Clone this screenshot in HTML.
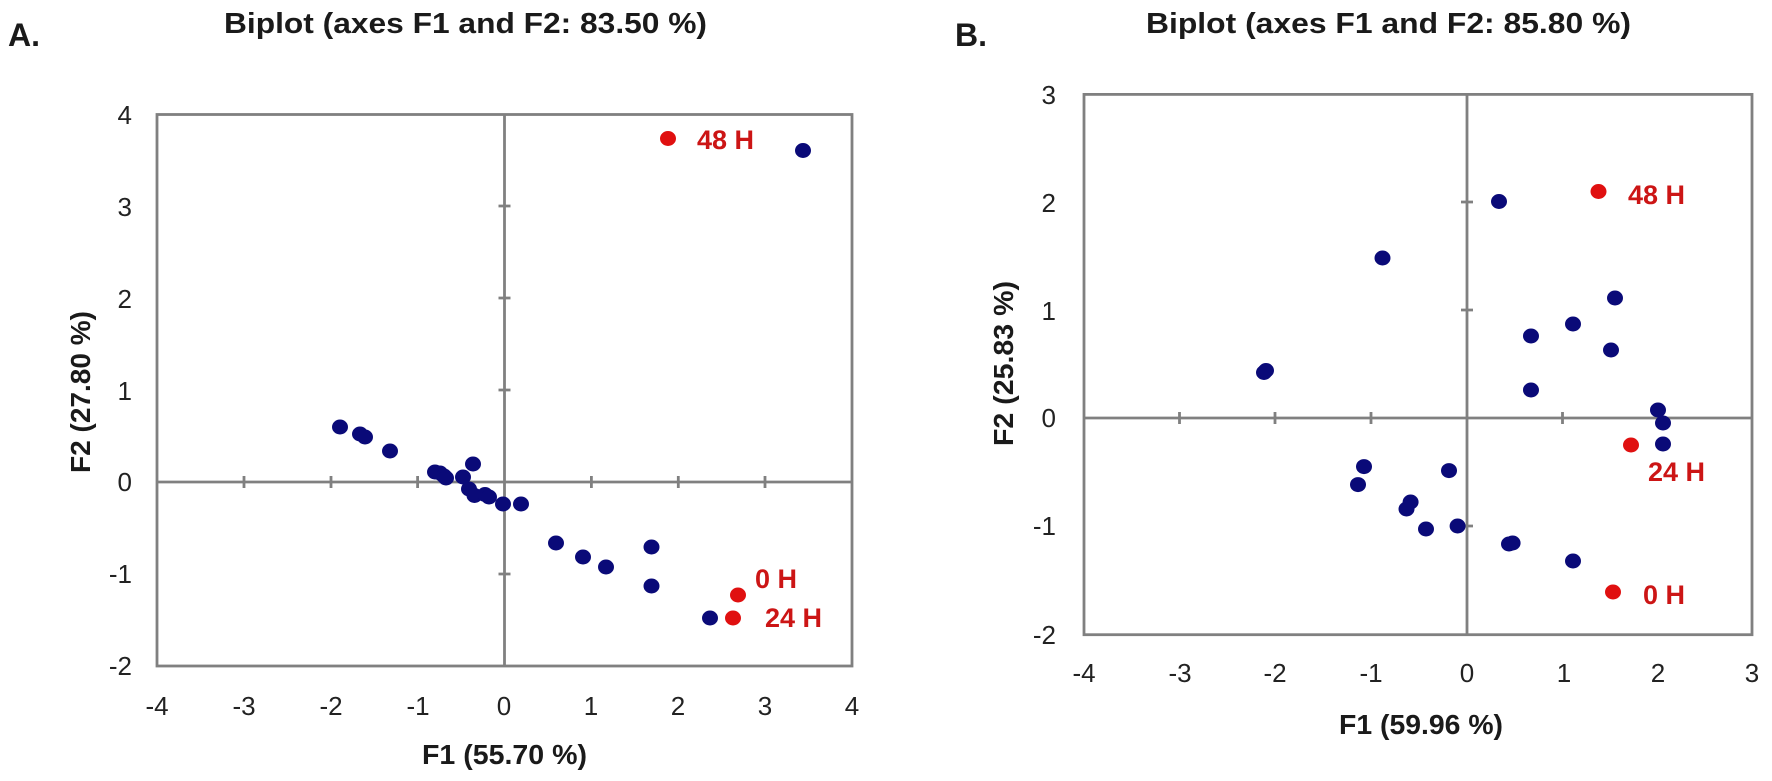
<!DOCTYPE html>
<html><head><meta charset="utf-8"><style>
html,body{margin:0;padding:0;background:#fff;}
svg{display:block;}
text{font-family:"Liberation Sans",sans-serif;}
.t{font-size:26px;fill:#222;}
.b{font-weight:bold;fill:#1a1a1a;}
.r{font-weight:bold;font-size:27px;fill:#cc1515;}
</style></head><body>
<svg width="1772" height="781" viewBox="0 0 1772 781">
<defs>
<ellipse id="d" rx="8" ry="7.5"/>
</defs>
<!-- Chart A -->
<text class="b" x="8" y="46" font-size="32">A.</text>
<text class="b" x="224" y="33" font-size="29" textLength="483" lengthAdjust="spacingAndGlyphs">Biplot (axes F1 and F2: 83.50 %)</text>
<g stroke="#808080" stroke-width="2.8" fill="none">
<rect x="157" y="114.5" width="695" height="551.5"/>
<line x1="157" y1="482" x2="852" y2="482"/>
<line x1="504.5" y1="114.5" x2="504.5" y2="666"/>
<path d="M244 476v12M331 476v12M417.6 476v12M591.4 476v12M678.3 476v12M765 476v12M498.5 206h12M498.5 298h12M498.5 390h12M498.5 574h12"/>
</g>
<g class="t" text-anchor="middle">
<text x="157" y="715">-4</text><text x="244" y="715">-3</text><text x="331" y="715">-2</text><text x="418" y="715">-1</text><text x="504" y="715">0</text><text x="591" y="715">1</text><text x="678" y="715">2</text><text x="765" y="715">3</text><text x="852" y="715">4</text>
</g>
<g class="t" text-anchor="end">
<text x="132" y="124">4</text><text x="132" y="216">3</text><text x="132" y="308">2</text><text x="132" y="400">1</text><text x="132" y="491">0</text><text x="132" y="583">-1</text><text x="132" y="675">-2</text>
</g>
<text class="b" x="422" y="764" font-size="28" textLength="165" lengthAdjust="spacingAndGlyphs">F1 (55.70 %)</text>
<text class="b" transform="translate(90,473) rotate(-90)" font-size="28" textLength="162" lengthAdjust="spacingAndGlyphs">F2 (27.80 %)</text>
<g fill="#0a0a78">
<use href="#d" x="340" y="427"/><use href="#d" x="360" y="434"/><use href="#d" x="365" y="437"/><use href="#d" x="390" y="451"/><use href="#d" x="435" y="472"/><use href="#d" x="440" y="473"/><use href="#d" x="444" y="476"/><use href="#d" x="446" y="478"/><use href="#d" x="463" y="477"/><use href="#d" x="473" y="464"/><use href="#d" x="469" y="489"/><use href="#d" x="474.5" y="495.5"/><use href="#d" x="485" y="494.5"/><use href="#d" x="489" y="497"/><use href="#d" x="503" y="504"/><use href="#d" x="521" y="504"/><use href="#d" x="556" y="543"/><use href="#d" x="583" y="557"/><use href="#d" x="606" y="567"/><use href="#d" x="651.5" y="547"/><use href="#d" x="651.5" y="586"/><use href="#d" x="710" y="618"/><use href="#d" x="803" y="150.5"/>
</g>
<g fill="#e01010">
<use href="#d" x="668" y="138.5"/><use href="#d" x="738" y="595"/><use href="#d" x="733" y="618"/>
</g>
<text class="r" x="697" y="149">48 H</text>
<text class="r" x="755" y="588">0 H</text>
<text class="r" x="765" y="627">24 H</text>

<!-- Chart B -->
<text class="b" x="955" y="46" font-size="32">B.</text>
<text class="b" x="1146" y="33" font-size="29" textLength="485" lengthAdjust="spacingAndGlyphs">Biplot (axes F1 and F2: 85.80 %)</text>
<g stroke="#808080" stroke-width="2.8" fill="none">
<rect x="1084" y="94.4" width="668" height="540.3"/>
<line x1="1084" y1="418" x2="1752" y2="418"/>
<line x1="1467" y1="94.4" x2="1467" y2="634.7"/>
<path d="M1179.5 412v12M1275 412v12M1371 412v12M1562.5 412v12M1658 412v12M1461 202h12M1461 310h12M1461 526h12"/>
</g>
<g class="t" text-anchor="middle">
<text x="1084" y="682">-4</text><text x="1180" y="682">-3</text><text x="1275" y="682">-2</text><text x="1371" y="682">-1</text><text x="1467" y="682">0</text><text x="1564" y="682">1</text><text x="1658" y="682">2</text><text x="1752" y="682">3</text>
</g>
<g class="t" text-anchor="end">
<text x="1056" y="104">3</text><text x="1056" y="212">2</text><text x="1056" y="320">1</text><text x="1056" y="427">0</text><text x="1056" y="535">-1</text><text x="1056" y="644">-2</text>
</g>
<text class="b" x="1339" y="734" font-size="28" textLength="164" lengthAdjust="spacingAndGlyphs">F1 (59.96 %)</text>
<text class="b" transform="translate(1013,446) rotate(-90)" font-size="28" textLength="165" lengthAdjust="spacingAndGlyphs">F2 (25.83 %)</text>
<g fill="#0a0a78">
<use href="#d" x="1264" y="372.5"/><use href="#d" x="1266" y="370.5"/><use href="#d" x="1382.5" y="258"/><use href="#d" x="1499" y="201.5"/><use href="#d" x="1364" y="466.6"/><use href="#d" x="1358" y="484.6"/><use href="#d" x="1410.6" y="502"/><use href="#d" x="1406.5" y="509"/><use href="#d" x="1449" y="470.6"/><use href="#d" x="1426" y="529"/><use href="#d" x="1457.6" y="526"/><use href="#d" x="1509" y="544"/><use href="#d" x="1512.6" y="543"/><use href="#d" x="1573" y="561"/>
<use href="#d" x="1615" y="298"/><use href="#d" x="1573" y="324"/><use href="#d" x="1531" y="336"/><use href="#d" x="1611" y="350"/><use href="#d" x="1531" y="390"/><use href="#d" x="1658" y="410"/><use href="#d" x="1663" y="423"/><use href="#d" x="1663" y="444"/>
</g>
<g fill="#e01010">
<use href="#d" x="1598.5" y="191.5"/><use href="#d" x="1631" y="445"/><use href="#d" x="1613" y="592"/>
</g>
<text class="r" x="1628" y="204">48 H</text>
<text class="r" x="1648" y="481">24 H</text>
<text class="r" x="1643" y="604">0 H</text>
</svg>
</body></html>
